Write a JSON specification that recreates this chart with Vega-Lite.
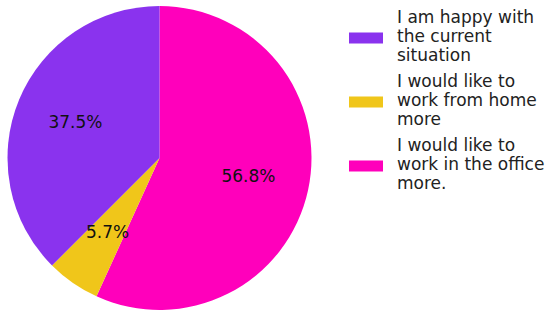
{
  "$schema": "https://vega.github.io/schema/vega-lite/v6.json",
  "width": 319,
  "height": 316,
  "autosize": {"type": "none"},
  "padding": {"left": 0, "top": 0, "right": 227, "bottom": 0},
  "background": "white",
  "config": {"view": {"stroke": null}, "font": "DejaVu Sans"},
  "data": {
    "values": [
      {"answer": "I would like to\nwork in the office\nmore.", "pct": 56.8, "ord": 1, "label": "56.8%"},
      {"answer": "I would like to\nwork from home\nmore", "pct": 5.7, "ord": 2, "label": "5.7%"},
      {"answer": "I am happy with\nthe current\nsituation", "pct": 37.5, "ord": 3, "label": "37.5%"}
    ]
  },
  "encoding": {
    "theta": {"field": "pct", "type": "quantitative", "stack": true},
    "order": {"field": "ord", "type": "quantitative"}
  },
  "layer": [
    {
      "mark": {"type": "arc", "outerRadius": 152, "stroke": null},
      "encoding": {
        "color": {
          "field": "answer",
          "type": "nominal",
          "scale": {
            "domain": ["I am happy with\nthe current\nsituation", "I would like to\nwork from home\nmore", "I would like to\nwork in the office\nmore."],
            "range": ["#8A33EE", "#F0C61A", "#FF00BB"]
          },
          "legend": {
            "title": null,
            "orient": "none",
            "legendX": 349,
            "legendY": 1,
            "padding": 0,
            "labelExpr": "split(datum.label, '\\n')",
            "labelFont": "DejaVu Sans",
            "labelFontSize": 17,
            "labelLineHeight": 19.5,
            "labelColor": "#222222",
            "labelLimit": 300,
            "labelOffset": 14,
            "symbolType": "M-1,0.853H1V1.5H-1Z",
            "symbolSize": 1156,
            "symbolStrokeWidth": 0,
            "symbolOpacity": 1,
            "rowPadding": 1
          }
        }
      }
    },
    {
      "mark": {"type": "text", "radius": 91, "fontSize": 17, "font": "DejaVu Sans", "color": "#111111"},
      "encoding": {"text": {"field": "label"}}
    }
  ]
}
